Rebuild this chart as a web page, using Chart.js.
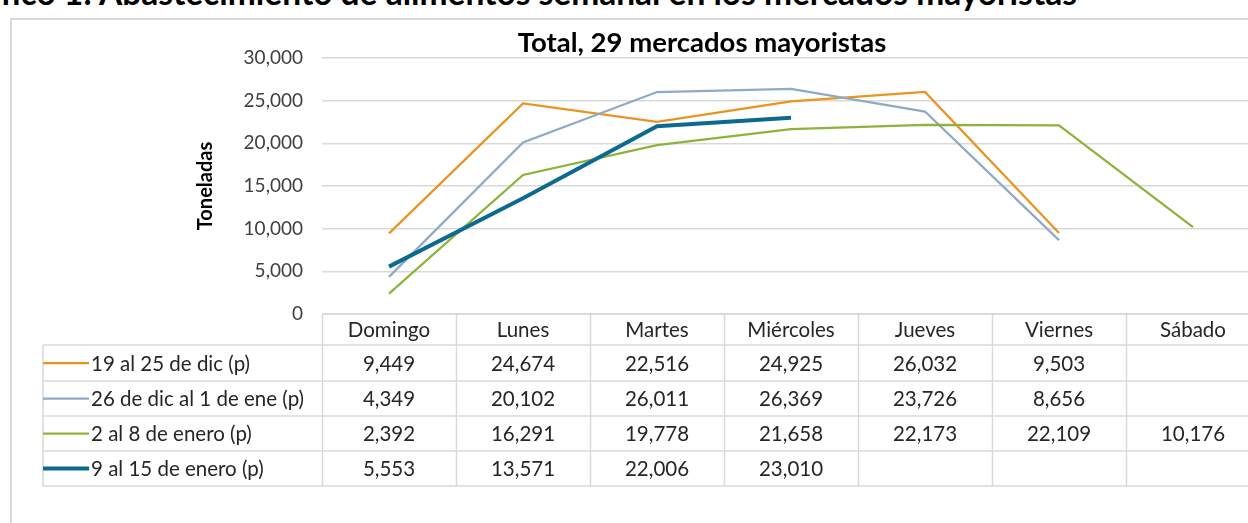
<!DOCTYPE html>
<html>
<head>
<meta charset="utf-8">
<script src="https://cdn.jsdelivr.net/npm/chart.js@4.4.1/dist/chart.umd.min.js"></script>
<style>
html, body { margin: 0; padding: 0; width: 1248px; height: 523px; overflow: hidden; background: #fff; }
#heading { position: absolute; right: 171px; top: -24px; line-height: 1; white-space: nowrap; font-family: Lato, sans-serif; font-weight: bold; font-size: 33.5px; color: #000; }
#frame { position: absolute; left: 10px; top: 18px; width: 1300px; height: 600px; border: 2px solid #d9d9d9; }
#wrap { position: absolute; left: 0; top: 0; width: 1262px; height: 523px; }
</style>
</head>
<body>
<div id="heading">Gráfico 1: Abastecimiento de alimentos semanal en los mercados mayoristas</div>
<div id="frame"></div>
<div id="wrap"><canvas id="chart"></canvas></div>
<script>
// Chart data
const dayLabels = ["Domingo", "Lunes", "Martes", "Miércoles", "Jueves", "Viernes", "Sábado"];
const seriesNames = ["19 al 25 de dic (p)", "26 de dic al 1 de ene (p)", "2 al 8 de enero (p)", "9 al 15 de enero (p)"];
const week1 = [9449, 24674, 22516, 24925, 26032, 9503, null];
const week2 = [4349, 20102, 26011, 26369, 23726, 8656, null];
const week3 = [2392, 16291, 19778, 21658, 22173, 22109, 10176];
const week4 = [5553, 13571, 22006, 23010, null, null, null];
const yTicks = [0, 5000, 10000, 15000, 20000, 25000, 30000];

// Styles
const seriesColors = ["#E8941F", "#8FAAC3", "#8CB43A", "#0C6A8F"];
const seriesWidths = [2.25, 2.25, 2.25, 4];
const fontName = "Lato, sans-serif";
const textColor = "#262626";
const lineGray = "#d9d9d9";

const fmt = function(v) {
	return v == null ? "" : v.toLocaleString("en-US");
};

// Data table drawn under the plot, columns taken from the x scale
const tablePlugin = {
	id: "dataTable",
	afterDraw: function(chart) {
		const ctx = chart.ctx;
		const xs = chart.scales.x;
		const colW = xs.width / dayLabels.length;
		const rows = [314, 345, 381, 416, 451, 486];
		const legendLeft = 43;
		ctx.save();

		// chart title
		ctx.fillStyle = "#000";
		ctx.font = "bold 27.5px " + fontName;
		ctx.textAlign = "center";
		ctx.textBaseline = "middle";
		ctx.fillText("Total, 29 mercados mayoristas", 702, 43);

		// grid of the table
		ctx.strokeStyle = lineGray;
		ctx.lineWidth = 1.5;
		ctx.beginPath();
		ctx.moveTo(xs.left, rows[0]);
		ctx.lineTo(xs.right, rows[0]);
		for (let r = 1; r < rows.length; r++) {
			ctx.moveTo(legendLeft, rows[r]);
			ctx.lineTo(xs.right, rows[r]);
		}
		ctx.moveTo(legendLeft, rows[1]);
		ctx.lineTo(legendLeft, rows[rows.length - 1]);
		for (let c = 0; c <= dayLabels.length; c++) {
			const cx = Math.round(xs.left + c * colW) + 0.5;
			ctx.moveTo(cx, rows[0]);
			ctx.lineTo(cx, rows[rows.length - 1]);
		}
		ctx.stroke();

		// header
		ctx.font = "20.5px " + fontName;
		ctx.fillStyle = textColor;
		ctx.textAlign = "center";
		chart.data.labels.forEach(function(lab, i) {
			ctx.fillText(lab, xs.getPixelForValue(i), (rows[0] + rows[1]) / 2 + 1);
		});

		// rows
		chart.data.datasets.forEach(function(ds, r) {
			const cy = (rows[r + 1] + rows[r + 2]) / 2;
			ctx.strokeStyle = ds.borderColor;
			ctx.lineWidth = ds.borderWidth;
			ctx.beginPath();
			ctx.moveTo(legendLeft, cy);
			ctx.lineTo(89, cy);
			ctx.stroke();
			ctx.fillStyle = textColor;
			ctx.textAlign = "left";
			ctx.fillText(ds.label, 91, cy + 1);
			ctx.textAlign = "center";
			ds.data.forEach(function(v, i) {
				ctx.fillText(fmt(v), xs.getPixelForValue(i), cy + 1);
			});
		});
		ctx.restore();
	}
};

const allSeries = [week1, week2, week3, week4];
const chartDataSet = allSeries.map(function(vals, i) {
	return {
		label: seriesNames[i],
		data: vals,
		borderColor: seriesColors[i],
		backgroundColor: seriesColors[i],
		borderWidth: seriesWidths[i],
		pointRadius: 0,
		tension: 0,
		fill: false,
		order: allSeries.length - i
	};
});

const chartOptions = {
	responsive: true,
	maintainAspectRatio: false,
	animation: false,
	layout: { padding: { left: 190, right: 2, top: 58, bottom: 201 } },
	plugins: {
		legend: { display: false },
		title: { display: false },
		tooltip: { enabled: false }
	},
	scales: {
		x: {
			offset: true,
			grid: { display: false },
			border: { display: false },
			ticks: { display: false }
		},
		y: {
			min: 0,
			max: 30000,
			afterFit: function(scale) { scale.width = 132; },
			afterBuildTicks: function(scale) {
				scale.ticks = yTicks.map(function(v) { return { value: v }; });
			},
			grid: { color: lineGray, lineWidth: 1.5, drawTicks: false },
			border: { display: false },
			ticks: {
				padding: 19,
				color: "#404040",
				font: { family: fontName, size: 19 },
				callback: function(v) { return fmt(v); }
			},
			title: {
				display: true,
				text: "Toneladas",
				color: "#000",
				font: { family: fontName, size: 20, weight: "bold" }
			}
		}
	}
};

new Chart(document.getElementById("chart"), {
	type: "line",
	data: { labels: dayLabels, datasets: chartDataSet },
	options: chartOptions,
	plugins: [tablePlugin]
});
</script>
</body>
</html>
